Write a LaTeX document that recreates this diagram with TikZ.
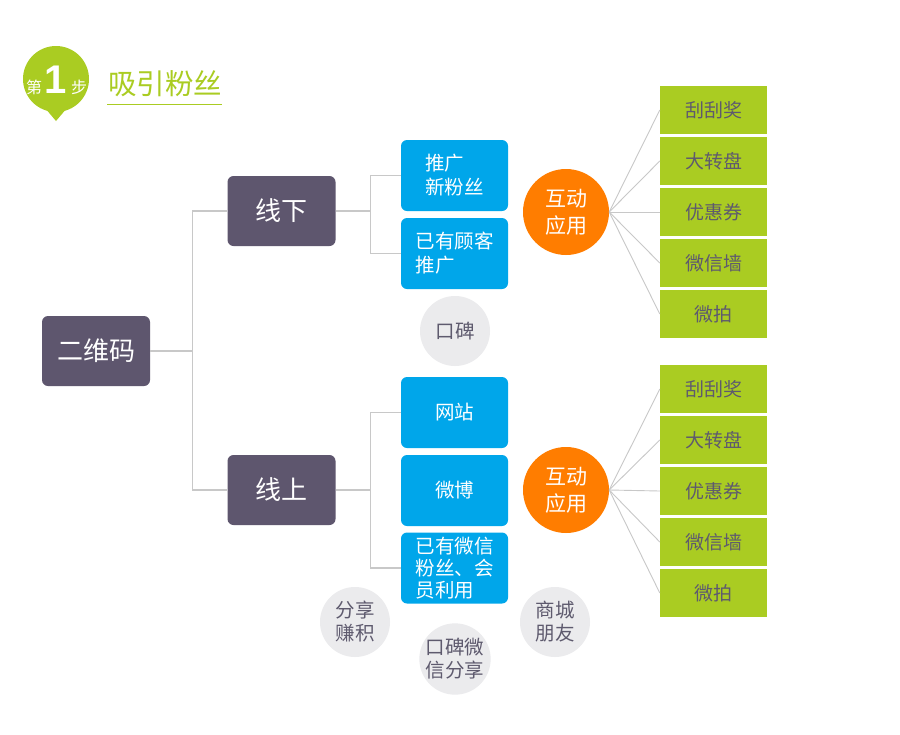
\documentclass[tikz,border=0pt]{standalone}
\usepackage{fontspec}
\newfontfamily\cjk{Noto Sans CJK SC}
\newfontfamily\numf{Liberation Sans}
\definecolor{dk}{HTML}{5E566E}
\definecolor{bl}{HTML}{00A6EA}
\definecolor{gr}{HTML}{AACC22}
\definecolor{orng}{HTML}{FF7D00}
\definecolor{lg}{HTML}{EBEBED}
\definecolor{ln}{HTML}{C8C8C8}
\definecolor{tx}{HTML}{5E5A6E}
\begin{document}
\begin{tikzpicture}[x=1pt,y=-1pt,
  dkbox/.style={fill=dk, rounded corners=6pt, minimum width=108pt, minimum height=70pt, text=white, font=\cjk\fontsize{26}{30}\selectfont, inner sep=0pt},
  blbox/.style={fill=bl, rounded corners=6pt, minimum width=107pt, minimum height=71pt, text=white, font=\cjk\fontsize{19.5}{24}\selectfont, inner sep=0pt, align=left},
  grbox/.style={fill=gr, minimum width=107pt, minimum height=48pt, text=tx, font=\cjk\fontsize{19}{22}\selectfont, inner sep=0pt},
  orc/.style={circle, fill=orng, minimum size=86pt, text=white, font=\cjk\fontsize{21}{27}\selectfont, align=center, inner sep=0pt},
  gyc/.style={circle, fill=lg, minimum size=70pt, text=tx, font=\cjk\fontsize{19.5}{23}\selectfont, align=center, inner sep=0pt},
  conn/.style={draw=ln, line width=1.2pt},
  fan/.style={draw=ln, line width=0.9pt}]
\fill[white] (0,0) rectangle (900,734);
\useasboundingbox (0,0) rectangle (900,734);

% badge
\fill[gr] (56,79) circle (33);
\fill[gr] (45,108) -- (67,108) -- (56,121) -- cycle;
\node[text=white, font=\cjk\fontsize{16}{16}\selectfont, inner sep=0pt] (bd1) at (34,87) {第};
\node[text=white, font=\numf\bfseries\fontsize{40}{40}\selectfont, inner sep=0pt] (bd2) at (56,80) {1};
\node[text=white, font=\cjk\fontsize{16}{16}\selectfont, inner sep=0pt] (bd3) at (79,87) {步};
\node[text=gr, font=\cjk\fontsize{28.5}{28.5}\selectfont, inner sep=0pt] (title) at (165,84) {吸引粉丝};
\draw[gr, line width=1pt] (107,104) -- (222,104);

% main nodes
\node[dkbox] (ewm) at (96,351) {二维码};
\node[dkbox] (xx) at (281.5,211) {线下};
\node[dkbox] (xs) at (281.5,490) {线上};

\node[blbox] (b1) at (454.5,175.5) {推广\\新粉丝};
\node[blbox] (b2) at (454.5,253.5) {已有顾客\\推广};
\node[blbox] (b3) at (454.5,412.5) {网站};
\node[blbox] (b4) at (454.5,490.5) {微博};
\node[blbox, font=\cjk\fontsize{19.5}{22}\selectfont] (b5) at (454.5,568) {已有微信\\粉丝、会\\员利用};

\node[orc] (o1) at (566,212) {互动\\应用};
\node[orc] (o2) at (566,490) {互动\\应用};

\node[gyc] (c1) at (455,331) {口碑};
\node[gyc] (c2) at (355,622) {分享\\赚积};
\node[gyc] (c3) at (455,659) {口碑微\\信分享};
\node[gyc] (c4) at (555,622) {商城\\朋友};

\node[grbox] (g1) at (713.5,110) {刮刮奖};
\node[grbox] (g2) at (713.5,161) {大转盘};
\node[grbox] (g3) at (713.5,212) {优惠券};
\node[grbox] (g4) at (713.5,263) {微信墙};
\node[grbox] (g5) at (713.5,314) {微拍};
\node[grbox] (g6) at (713.5,389) {刮刮奖};
\node[grbox] (g7) at (713.5,440) {大转盘};
\node[grbox] (g8) at (713.5,491) {优惠券};
\node[grbox] (g9) at (713.5,542) {微信墙};
\node[grbox] (g10) at (713.5,593) {微拍};

% connectors
\draw[conn] (ewm.east) -- ++(42,0) coordinate (j1);
\draw[conn] (j1) |- (xx.west);
\draw[conn] (j1) |- (xs.west);
\draw[conn] (xx.east) -- ++(35,0) coordinate (j2);
\draw[conn] (j2) |- (b1.west);
\draw[conn] (j2) |- (b2.west);
\draw[conn] (xs.east) -- ++(35,0) coordinate (j3);
\draw[conn] (j3) |- (b3.west);
\draw[conn] (j3) |- (b5.west);

\foreach \g in {g1,g2,g3,g4,g5} \draw[fan] (o1.east) -- (\g.west);
\foreach \g in {g6,g7,g8,g9,g10} \draw[fan] (o2.east) -- (\g.west);
\end{tikzpicture}
\end{document}
